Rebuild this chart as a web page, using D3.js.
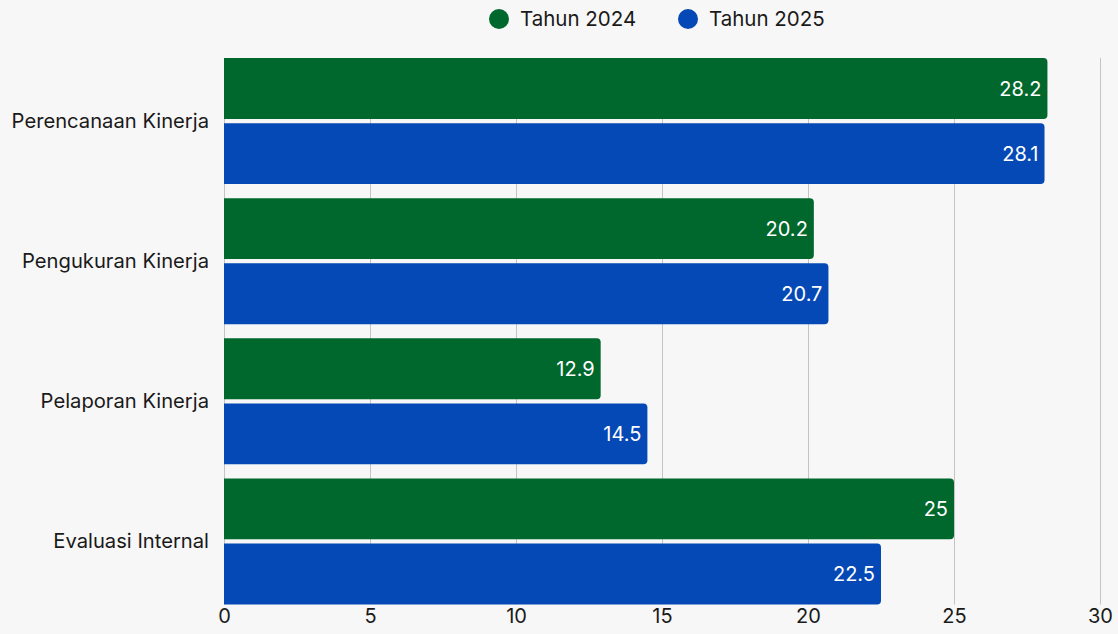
<!DOCTYPE html>
<html>
<head>
<meta charset="utf-8">
<script src="https://cdn.jsdelivr.net/npm/d3@7"></script>
<style>
  body { margin:0; background:#f7f7f7; }
  svg text { font-family: Inter, Roboto, sans-serif; }
</style>
</head>
<body>
<div id="chart"></div>
<script>
var categories = ['Perencanaan Kinerja','Pengukuran Kinerja','Pelaporan Kinerja','Evaluasi Internal'];
var seriesNames = ['Tahun 2024','Tahun 2025'];
var values2024 = [28.2, 20.2, 12.9, 25];
var values2025 = [28.1, 20.7, 14.5, 22.5];
var xTicks = [0,5,10,15,20,25,30];
var colors = ['#00682d','#0549b6'];

var W = 1118, H = 634;

var data = categories.map(function(c,i){
  return {cat:c, vals:[{s:seriesNames[0], v:values2024[i]},{s:seriesNames[1], v:values2025[i]}]};
});

var svg = d3.select('#chart').append('svg')
    .attr('width',W).attr('height',H)
    .style('background','#f7f7f7');

var x = d3.scaleLinear().domain([0,30]).range([224,1100]);
var y0 = d3.scaleBand().domain(categories).range([58,604.5]).paddingInner(0.1).paddingOuter(0);
var y1 = d3.scaleBand().domain(seriesNames).range([0,y0.bandwidth()]).paddingInner(0.065);
var color = d3.scaleOrdinal().domain(seriesNames).range(colors);

// grid
svg.append('g').selectAll('line')
  .data(xTicks)
  .enter().append('line')
  .attr('x1',d => x(d)+0.5).attr('x2',d => x(d)+0.5)
  .attr('y1',58).attr('y2',604.5)
  .style('stroke','#c4c4c4').style('stroke-width',1);

// x axis labels
var axisX = d3.axisBottom(x).tickValues(xTicks).tickSize(0).tickPadding(0);
var gx = svg.append('g').attr('transform','translate(0,609)').call(axisX);
gx.select('.domain').remove();
gx.selectAll('text')
  .attr('dy','0.71em')
  .style('font-size','20px')
  .style('fill','#1a1a1a');

// y axis labels
var axisY = d3.axisLeft(y0).tickSize(0).tickPadding(15);
var gy = svg.append('g').attr('transform','translate(224,0)').call(axisY);
gy.select('.domain').remove();
gy.selectAll('text')
  .style('font-size','20.2px')
  .style('fill','#1a1a1a');

function barPath(x0, yTop, w, h, r){
  r = Math.min(r, w);
  return 'M'+x0+','+yTop+
    'H'+(x0+w-r)+
    'Q'+(x0+w)+','+yTop+' '+(x0+w)+','+(yTop+r)+
    'V'+(yTop+h-r)+
    'Q'+(x0+w)+','+(yTop+h)+' '+(x0+w-r)+','+(yTop+h)+
    'H'+x0+'Z';
}

var groups = svg.append('g').selectAll('g')
  .data(data)
  .enter().append('g')
  .attr('transform',d => 'translate(0,'+y0(d.cat)+')');

groups.selectAll('path')
  .data(d => d.vals)
  .enter().append('path')
  .attr('d',d => barPath(x(0), y1(d.s), x(d.v)-x(0), y1.bandwidth(), 4))
  .style('fill',d => color(d.s));

groups.selectAll('text.val')
  .data(d => d.vals)
  .enter().append('text')
  .attr('class','val')
  .attr('x',d => x(d.v)-6)
  .attr('y',d => y1(d.s)+y1.bandwidth()/2)
  .attr('dy','0.36em')
  .attr('text-anchor','end')
  .style('font-size','20px')
  .style('fill','#ffffff')
  .text(d => d.v);

// legend
var legend = svg.append('g').selectAll('g')
  .data(seriesNames)
  .enter().append('g')
  .attr('transform',(d,i) => 'translate('+(499+i*189)+',19)');
legend.append('circle').attr('r',10).style('fill',d => color(d));
legend.append('text')
  .attr('x',21).attr('dy','0.36em')
  .style('font-size','20.5px')
  .style('fill','#1a1a1a')
  .text(d => d);
</script>
</body>
</html>
